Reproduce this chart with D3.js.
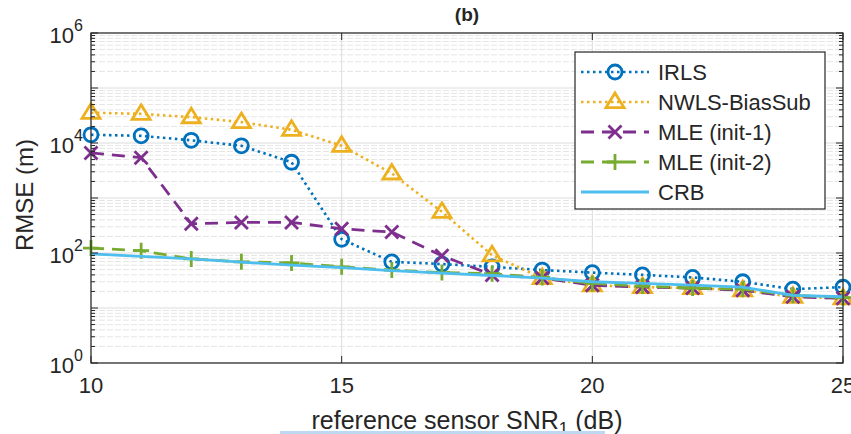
<!DOCTYPE html>
<html>
<head>
<meta charset="utf-8">
<script src="https://cdn.jsdelivr.net/npm/d3@7"></script>
<style>
  html, body { margin: 0; padding: 0; background: #fff; }
  svg { display: block; }
</style>
</head>
<body>
<div id="chart"></div>
<script>
// SNR (dB) sur l'axe x
const snr = [10, 11, 12, 13, 14, 15, 16, 17, 18, 19, 20, 21, 22, 23, 24, 25];

// RMSE (m)
const irls     = [14100, 13500, 11200, 8900, 4470, 178, 69, 63, 56, 49, 44, 40, 36, 30, 22, 24];
const nwls     = [35500, 33900, 29500, 24000, 17400, 8900, 2800, 560, 91, 35, 26, 24, 23, 21, 16, 15];
const mleInit1 = [6600, 5400, 340, 360, 360, 275, 240, 89, 40, 35, 26, 24, 23, 21, 16, 15];
const mleInit2 = [123, 110, 78, 69, 66, 56, 49, 44, 42, 36, 28, 25, 23, 22, 17, 15.5];
const crb      = [96, 87, 78, 68, 60, 54, 48, 43, 39, 35, 30, 28, 26, 24, 17, 16];

const xTicks = [10, 15, 20, 25];
const yTickExps = [0, 2, 4, 6];

const width = 851, height = 434;
const margin = {top: 33, right: 8, bottom: 71, left: 91};
const font = "'Liberation Sans', Arial, Helvetica, sans-serif";
const ink = "#262626";

const x = d3.scaleLinear().domain([10, 25]).range([margin.left, width - margin.right]);
const y = d3.scaleLog().domain([1, 1e6]).range([height - margin.bottom, margin.top]);

const svg = d3.select("#chart").append("svg")
  .attr("width", width).attr("height", height)
  .attr("viewBox", [0, 0, width, height])
  .style("font-family", font);

const x0 = margin.left, x1 = width - margin.right;
const y0 = height - margin.bottom, y1 = margin.top;

// Grille
const minor = [];
for (let e = 0; e < 6; e++) for (let m = 2; m <= 9; m++) minor.push(m * Math.pow(10, e));
const major = d3.range(0, 7).map(e => Math.pow(10, e));

svg.append("g").selectAll("line").data(minor).join("line")
  .attr("x1", x0).attr("x2", x1)
  .attr("y1", d => y(d)).attr("y2", d => y(d))
  .attr("stroke", "#e6e6e6").attr("stroke-width", 1)
  .attr("stroke-dasharray", "6,2");
svg.append("g").selectAll("line").data(major).join("line")
  .attr("x1", x0).attr("x2", x1)
  .attr("y1", d => y(d)).attr("y2", d => y(d))
  .attr("stroke", "#dcdcdc").attr("stroke-width", 1);
svg.append("g").selectAll("line").data(xTicks).join("line")
  .attr("x1", d => x(d)).attr("x2", d => x(d))
  .attr("y1", y0).attr("y2", y1)
  .attr("stroke", "#dcdcdc").attr("stroke-width", 1);

// Courbes
const series = [
  {name: "IRLS", values: irls, color: "#0072BD", dash: "2.5,3.5", width: 2.6, marker: "circle"},
  {name: "NWLS-BiasSub", values: nwls, color: "#EDB120", dash: "2.5,3.5", width: 2.6, marker: "triangle"},
  {name: "MLE (init-1)", values: mleInit1, color: "#7E2F8E", dash: "13,8", width: 2.8, marker: "x"},
  {name: "MLE (init-2)", values: mleInit2, color: "#77AC30", dash: "13,8", width: 2.8, marker: "plus"},
  {name: "CRB", values: crb, color: "#4DBEEE", dash: null, width: 2.8, marker: null},
];

const line = d3.line().x(d => x(d[0])).y(d => y(d[1]));

function drawMarker(g, type, cx, cy, color) {
  if (type === "circle") {
    g.append("circle").attr("cx", cx).attr("cy", cy).attr("r", 7)
      .attr("fill", "none").attr("stroke", color).attr("stroke-width", 2.8);
  } else if (type === "triangle") {
    const s = 9;
    g.append("path")
      .attr("d", `M${cx},${cy - s}L${cx + s},${cy + s * 0.62}L${cx - s},${cy + s * 0.62}Z`)
      .attr("fill", "none").attr("stroke", color).attr("stroke-width", 2.8)
      .attr("stroke-linejoin", "miter");
  } else if (type === "x") {
    const s = 6.5;
    g.append("path")
      .attr("d", `M${cx - s},${cy - s}L${cx + s},${cy + s}M${cx - s},${cy + s}L${cx + s},${cy - s}`)
      .attr("stroke", color).attr("stroke-width", 2.8);
  } else if (type === "plus") {
    const s = 8;
    g.append("path")
      .attr("d", `M${cx - s},${cy}L${cx + s},${cy}M${cx},${cy - s}L${cx},${cy + s}`)
      .attr("stroke", color).attr("stroke-width", 2.8);
  }
}

const plot = svg.append("g");
for (const s of series) {
  const pts = snr.map((v, i) => [v, s.values[i]]);
  plot.append("path").datum(pts)
    .attr("d", line)
    .attr("fill", "none")
    .attr("stroke", s.color)
    .attr("stroke-width", s.width)
    .attr("stroke-dasharray", s.dash);
  if (s.marker) {
    const mg = plot.append("g");
    for (const p of pts) drawMarker(mg, s.marker, x(p[0]), y(p[1]), s.color);
  }
}

// Cadre et graduations
svg.append("rect")
  .attr("x", x0).attr("y", y1).attr("width", x1 - x0).attr("height", y0 - y1)
  .attr("fill", "none").attr("stroke", ink).attr("stroke-width", 1.2);

const tk = svg.append("g").attr("stroke", ink).attr("stroke-width", 1);
for (const d of xTicks) {
  tk.append("line").attr("x1", x(d)).attr("x2", x(d)).attr("y1", y0).attr("y2", y0 - 7);
  tk.append("line").attr("x1", x(d)).attr("x2", x(d)).attr("y1", y1).attr("y2", y1 + 7);
}
for (const d of minor) {
  tk.append("line").attr("x1", x0).attr("x2", x0 + 4).attr("y1", y(d)).attr("y2", y(d));
  tk.append("line").attr("x1", x1).attr("x2", x1 - 4).attr("y1", y(d)).attr("y2", y(d));
}
for (const d of major) {
  tk.append("line").attr("x1", x0).attr("x2", x0 + 7).attr("y1", y(d)).attr("y2", y(d));
  tk.append("line").attr("x1", x1).attr("x2", x1 - 7).attr("y1", y(d)).attr("y2", y(d));
}

// Étiquettes des axes
svg.append("g").selectAll("text").data(xTicks).join("text")
  .attr("x", d => x(d)).attr("y", y0 + 30)
  .attr("text-anchor", "middle").attr("font-size", 22).attr("fill", ink)
  .text(d => d);

const yl = svg.append("g").selectAll("text").data(yTickExps).join("text")
  .attr("x", x0 - 8).attr("y", d => y(Math.pow(10, d)) + 10)
  .attr("text-anchor", "end").attr("font-size", 22).attr("fill", ink);
yl.append("tspan").text("10");
yl.append("tspan").attr("dy", -12).attr("font-size", 16).text(d => d);

svg.append("text")
  .attr("transform", `translate(33,${(y0 + y1) / 2 - 3}) rotate(-90)`)
  .attr("text-anchor", "middle").attr("font-size", 24).attr("fill", ink)
  .text("RMSE (m)");

const xl = svg.append("text")
  .attr("x", (x0 + x1) / 2).attr("y", 429)
  .attr("text-anchor", "middle").attr("font-size", 25).attr("fill", ink);
xl.append("tspan").text("reference sensor SNR");
xl.append("tspan").attr("dy", 5).attr("font-size", 17).text("1");
xl.append("tspan").attr("dy", -5).text(" (dB)");

svg.append("rect")
  .attr("x", 280).attr("y", 431).attr("width", 325).attr("height", 3)
  .attr("fill", "#bcd8f3");

svg.append("text")
  .attr("x", (x0 + x1) / 2).attr("y", 21)
  .attr("text-anchor", "middle").attr("font-size", 19).attr("font-weight", "bold")
  .attr("fill", ink).text("(b)");

// Légende
const lg = svg.append("g").attr("transform", "translate(575,52)");
lg.append("rect").attr("width", 250).attr("height", 157)
  .attr("fill", "#fff").attr("stroke", ink).attr("stroke-width", 1.2);
series.forEach((s, i) => {
  const cy = 20 + i * 30;
  lg.append("line").attr("x1", 6).attr("x2", 74).attr("y1", cy).attr("y2", cy)
    .attr("stroke", s.color).attr("stroke-width", s.width)
    .attr("stroke-dasharray", s.dash);
  if (s.marker) drawMarker(lg, s.marker, 40, cy, s.color);
  lg.append("text").attr("x", 83).attr("y", cy + 8)
    .attr("font-size", 22).attr("fill", ink).text(s.name);
});
</script>
</body>
</html>
